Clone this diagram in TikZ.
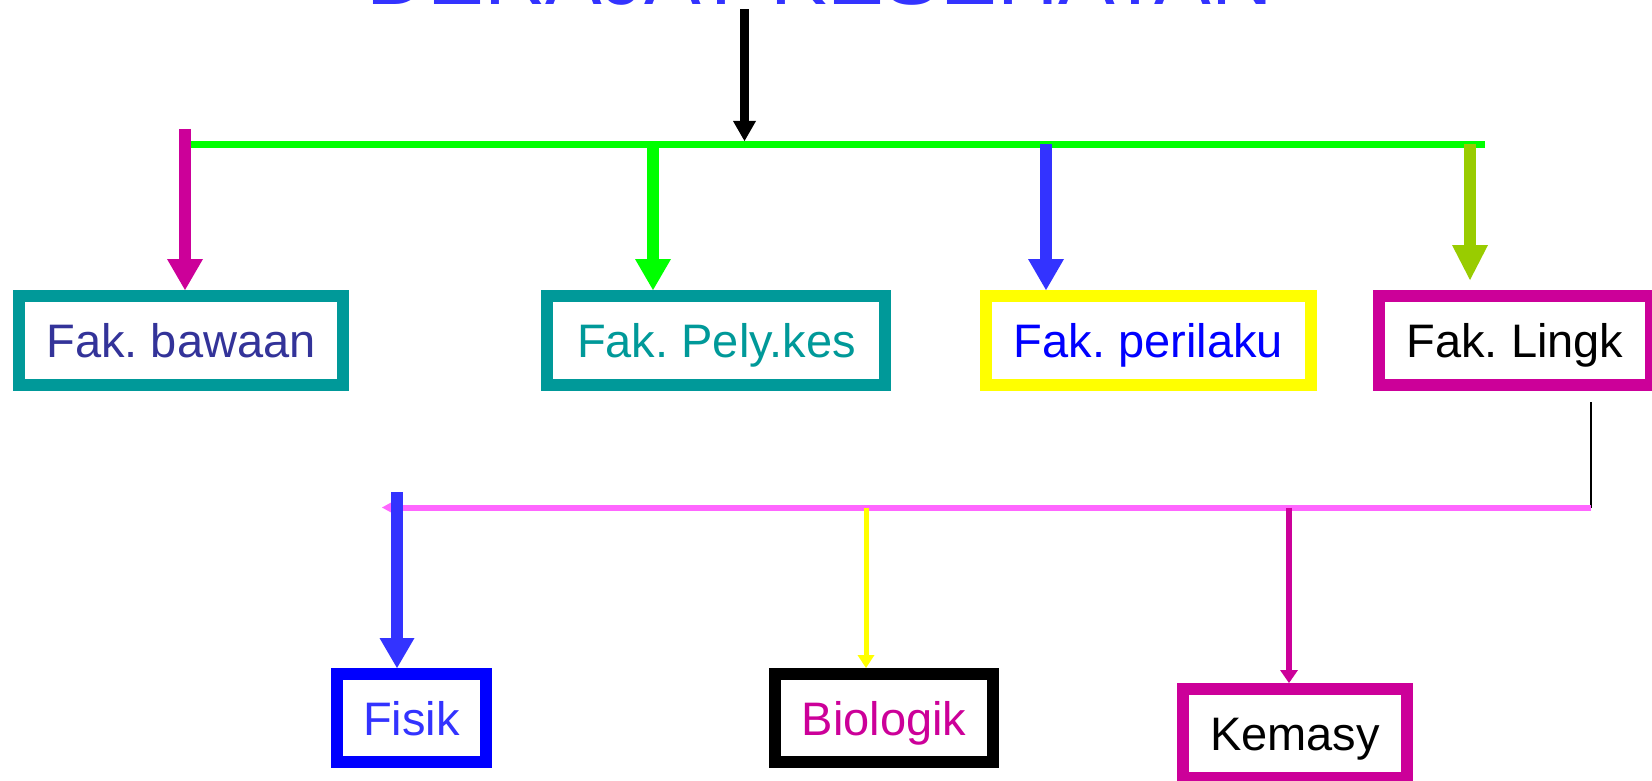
\documentclass[tikz,border=0pt]{standalone}
\usepackage{fontspec}
\setmainfont{Liberation Sans}
\usetikzlibrary{arrows.meta}
\frenchspacing
\definecolor{ttlblue}{HTML}{3333FF}
\definecolor{mag}{HTML}{CC0099}
\definecolor{lime}{HTML}{00FF00}
\definecolor{olive}{HTML}{99CC00}
\definecolor{teal}{HTML}{009999}
\definecolor{yel}{HTML}{FFFF00}
\definecolor{pink}{HTML}{FF66FF}
\definecolor{navy}{HTML}{333399}
\definecolor{pureblue}{HTML}{0000FF}
\tikzset{
  fbox/.style={draw, line width=12pt, inner sep=0pt, text height=34pt, text depth=0pt,
    minimum height=89pt, font=\fontsize{47}{56}\selectfont\frenchspacing},
  bigarrow/.style={line width=12pt, -{Triangle[width=36pt,length=31pt,line width=0pt]}},
  midarrow/.style={line width=9pt, -{Triangle[width=23pt,length=20pt,line width=0pt]}},
  thinarrow/.style={line width=6pt, -{Triangle[width=18pt,length=13pt,line width=0pt]}},
}
\begin{document}
\begin{tikzpicture}[x=1pt,y=-1pt]
\clip (0,0) rectangle (1652,781);
\fill[white] (0,0) rectangle (1652,781);

% title (cut off at top, as in the reference)
\node[anchor=base, inner sep=0pt, text=ttlblue, font=\fontsize{85}{100}\selectfont] (title) at (819.5,5) {DERAJAT KESEHATAN};

% top row boxes
\node[fbox, draw=teal, text=navy, minimum width=324pt] (bawaan) at (181,340.5) {Fak. bawaan};
\node[fbox, draw=teal, text=teal, minimum width=338pt] (pely) at (716.4,340.5) {Fak. Pely.kes};
\node[fbox, draw=yel, text=pureblue, minimum width=325pt] (perilaku) at (1148.4,340.5) {Fak. perilaku};
\node[fbox, draw=mag, text=black, minimum width=272pt] (lingk) at (1515,340.5) {Fak. Lingk};

% bottom row boxes
\node[fbox, draw=pureblue, text=ttlblue, minimum width=149pt, minimum height=88pt] (fisik) at (411.5,718) {Fisik};
\node[fbox, draw=black, text=mag, minimum width=218pt, minimum height=88pt] (biologik) at (884,718) {Biologik};
\node[fbox, draw=mag, text=black, minimum width=224pt] (kemasy) at (1295,733.5) {Kemasy};

% junction coordinates
\coordinate (bj) at (744.5,141);
\coordinate (gL) at (191,144.5);
\coordinate (gR) at (1485,144.5);
\coordinate (m0) at (185,129);
\coordinate (g1) at (653,144.5);
\coordinate (b1) at (1046,144.5);
\coordinate (o1) at (1470,144.5);
\coordinate (pR) at (1591,507.5);
\coordinate (pL) at (382,507.5);
\coordinate (f0) at (397,492);
\coordinate (y0) at (866,507.5);
\coordinate (k0) at (1289,507.5);

% title arrow
\draw[midarrow, black, shorten <=3pt] (title.south -| bj) -- (bj);

% green bar and its arrows
\draw[lime, line width=7pt] (gL) -- (gR);
\draw[bigarrow, mag] (m0) -- (m0 |- bawaan.north);
\draw[bigarrow, lime] (g1) -- (g1 |- pely.north);
\draw[bigarrow, ttlblue] (b1) -- (b1 |- perilaku.north);
\draw[line width=12pt, olive, -{Triangle[width=36pt,length=35pt,line width=0pt]}, shorten >=10pt] (o1) -- (o1 |- lingk.north);

% lower branch
\draw[black, line width=2pt, shorten <=11pt] (lingk.south -| pR) -- (pR);
\draw[pink, line width=6pt, -{Triangle[width=11pt,length=10pt,line width=0pt]}] (pR) -- (pL);
\draw[line width=12pt, ttlblue, -{Triangle[width=35pt,length=30pt,line width=0pt]}] (f0) -- (f0 |- fisik.north);
\draw[line width=5pt, yel, -{Triangle[width=17pt,length=13pt,line width=0pt]}] (y0) -- (y0 |- biologik.north);
\draw[thinarrow, mag] (k0) -- (k0 |- kemasy.north);
\end{tikzpicture}
\end{document}
